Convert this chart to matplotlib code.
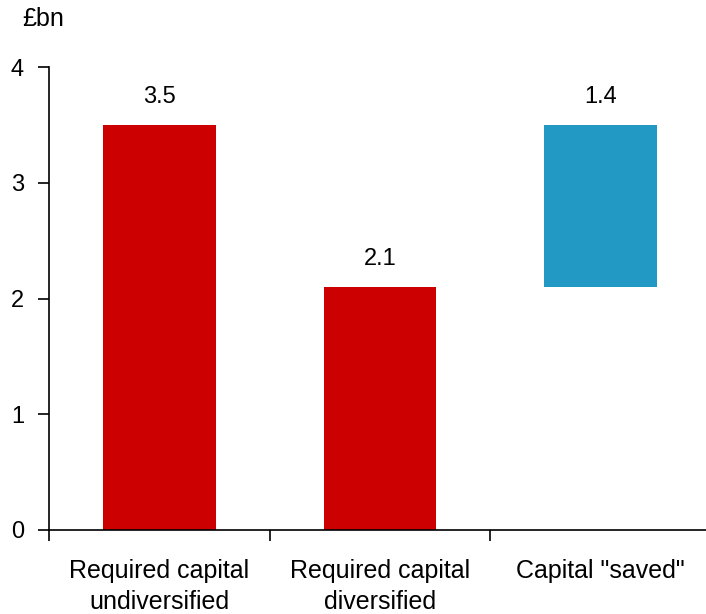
import matplotlib.pyplot as plt

plt.rcParams['font.family'] = ['Liberation Sans', 'DejaVu Sans']

categories = ['Required capital\nundiversified', 'Required capital\ndiversified', 'Capital "saved"']
bar_bottoms = [0, 0, 2.1]
bar_heights = [3.5, 2.1, 1.4]
bar_colors = ['#CC0000', '#CC0000', '#2199C4']

fig = plt.figure(figsize=(7.06, 6.14), dpi=100)
ax = fig.add_axes([49 / 706, (614 - 530) / 614, 662 / 706, 463 / 614])

x = range(len(categories))
bars = ax.bar(x, bar_heights, bottom=bar_bottoms, width=0.51, color=bar_colors)

for xi, b, h in zip(x, bar_bottoms, bar_heights):
    ax.annotate(f'{h:.1f}', (xi, b + h), xytext=(0, 20), textcoords='offset points',
                ha='center', va='center', fontsize=17)

ax.set_xlim(-0.5, 2.5)
ax.set_ylim(0, 4)
ax.set_yticks([0, 1, 2, 3, 4])
ax.set_xticks([-0.5, 0.5, 1.5], minor=False)
ax.set_xticklabels([])
ax.set_xticks(list(x), minor=True)
ax.set_xticklabels(categories, minor=True, fontsize=18, linespacing=1.38)
ax.tick_params(axis='x', which='minor', length=0, pad=21)
ax.tick_params(axis='x', which='major', direction='out', length=8, width=1.2)
ax.tick_params(axis='y', direction='out', length=8, width=1.2, labelsize=17, pad=10)

for side in ['top', 'right']:
    ax.spines[side].set_visible(False)
for side in ['left', 'bottom']:
    ax.spines[side].set_linewidth(1.2)

fig.text(22 / 706, 1 - 19 / 614, '£bn', fontsize=18, va='center', ha='left')

fig.savefig('out.png', dpi=100)
